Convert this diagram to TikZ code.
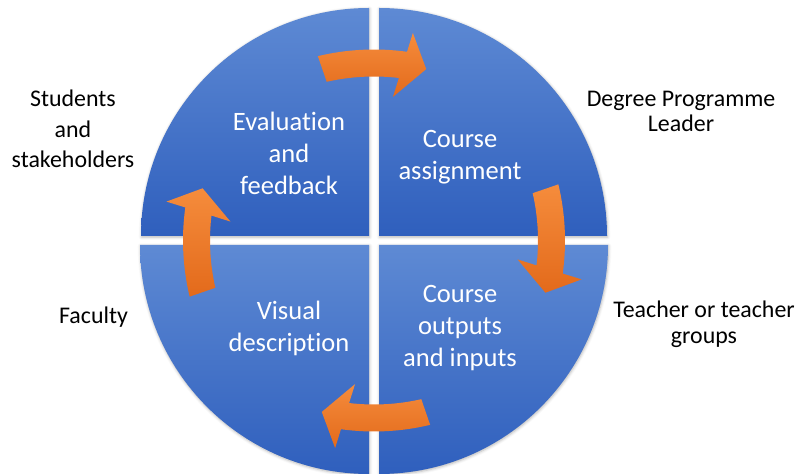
\documentclass[tikz,border=0pt]{standalone}
\usepackage{fontspec}
\setmainfont{Carlito}[Ligatures=NoCommon]
\usetikzlibrary{shadows.blur}
\definecolor{quadtop}{RGB}{94,138,212}
\definecolor{quadbot}{RGB}{47,95,189}
\definecolor{arrtop}{RGB}{245,140,60}
\definecolor{arrbot}{RGB}{227,106,27}

\begin{document}
\begin{tikzpicture}[x=0.02cm, y=0.02cm,
    quad/.style={top color=quadtop, bottom color=quadbot,
      blur shadow={shadow xshift=0.3pt, shadow yshift=-0.6pt, shadow blur radius=1.6pt, shadow opacity=30}},
    turn/.style={top color=arrtop, bottom color=arrbot},
    inside/.style={text=white, align=center, font=\fontsize{15.1}{18.2}\selectfont},
    outside/.style={text=black, align=center, font=\fontsize{13.6}{17.3}\selectfont}]
      \useasboundingbox (0,0) rectangle (800,473);
      \shade[quad] (369,237) -- (141,237) arc[start angle=180, end angle=90, radius=228] -- cycle;
      \shade[quad] (379,237) -- (379,465) arc[start angle=90, end angle=0, radius=228] -- cycle;
      \shade[quad] (369,228) -- (369,-1) arc[start angle=270, end angle=180, radius=229] -- cycle;
      \shade[quad] (379,228) -- (608,228) arc[start angle=0, end angle=-90, radius=229] -- cycle;
      \foreach \rot in {0,-90,180,90}
        \shade[turn, rotate around={\rot:(374,232.5)}, shift={(374,183)}]
              (103.5:240.5) arc[start angle=103.5, end angle=82.1, radius=240.5]
              -- (81.4:260) -- (76.7:227) -- (84.4:194) -- (83.3:213.5)
              arc[start angle=83.3, end angle=102.8, radius=213.5] -- cycle;
      \node[inside] (evaluation) at (289,320) {Evaluation\\and\\feedback};
      \node[inside] (assignment) at (460,316) {Course\\assignment};
      \node[inside] (visual) at (289,145) {Visual\\description};
      \node[inside] (outputs) at (460,144.5) {Course\\outputs\\and inputs};
      \node[outside] (students) at (73,344) {Students\\and\\stakeholders};
      \node[outside, font=\fontsize{13.6}{14.7}\selectfont] (leader) at (681,361.5) {Degree Programme\\Leader};
      \node[outside] (faculty) at (93.5,156) {Faculty};
      \node[outside, font=\fontsize{13.6}{14.7}\selectfont] (teacher) at (704,149) {Teacher or teacher\\groups};
\end{tikzpicture}
\end{document}
